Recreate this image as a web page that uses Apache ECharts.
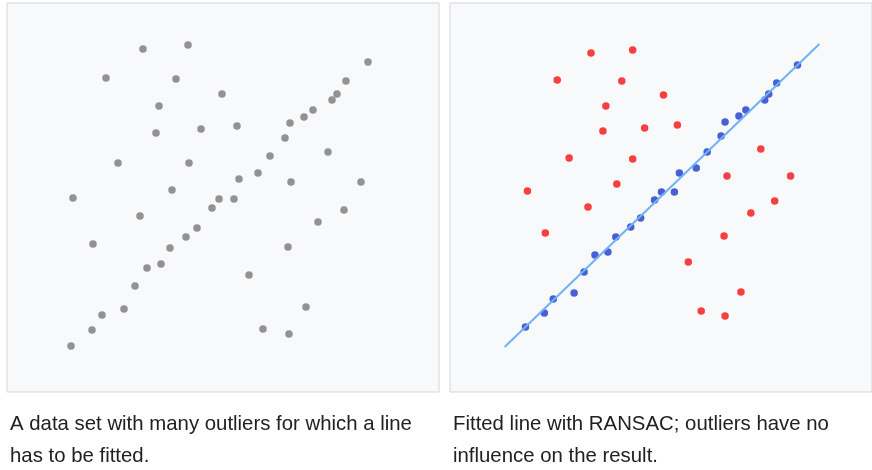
<!DOCTYPE html>
<html>
<head>
<meta charset="utf-8">
<style>
html,body{margin:0;padding:0;background:#ffffff;}
#chart{width:872px;height:470px;}
</style>
<script src="https://cdn.jsdelivr.net/npm/echarts@6/dist/echarts.min.js"></script>
</head>
<body>
<div id="chart"></div>
<script>
// Left panel: all points of the data set
var allPoints = [
  [136,343],[181,347],[99,314],[169,313],[215,298],[361,330],[339,311],[330,298],[325,292],[306,282],
  [297,275],[283,269],[152,286],[149,259],[194,263],[230,266],[278,254],[111,229],[182,229],[263,236],
  [321,240],[251,219],[232,213],[284,210],[354,210],[165,202],[66,194],[212,193],[227,193],[205,184],
  [133,176],[337,182],[311,170],[86,148],[190,164],[179,155],[163,144],[281,145],[154,128],[140,124],
  [128,106],[242,117],[117,83],[95,77],[299,85],[85,62],[256,63],[282,58],[64,46]
];
// Right panel: outliers (red)
var outliers = [
  [142,339],[184,342],[108,312],[173,311],[215,297],[157,286],[154,261],[196,264],[229,267],[120,234],
  [184,233],[313,243],[279,216],[343,216],[168,208],[78,201],[139,185],[327,191],[303,179],[96,159],
  [276,156],[240,130],[293,100],[253,81],[277,76]
];
// Right panel: inliers (blue)
var inliers = [
  [350,327],[329,309],[321,298],[317,292],[298,282],[291,276],[277,270],[273,256],[259,240],[248,224],
  [231,219],[226,200],[213,200],[206,192],[192,174],[182,165],[167,155],[159,140],[146,137],[135,120],
  [125,99],[104,93],[95,79],[76,65]
];
// Right panel: fitted line end points
var fittedLine = [[55,45],[372,348]];

var captionLeft = ['A data set with many outliers for which a line', 'has to be fitted.'];
var captionRight = ['Fitted line with RANSAC; outliers have no', 'influence on the result.'];

var chart = echarts.init(document.getElementById('chart'), null, {renderer:'canvas'});
var panelBg = '#f8f9fa', panelBorder = '#d3d6da';
function xAx(i, max){ return {gridIndex:i, type:'value', min:0, max:max, show:false}; }
function yAx(i){ return {gridIndex:i, type:'value', min:0, max:389, show:false}; }
var fontFam = '"Liberation Sans", Arial, sans-serif';
function cap(x, lines){
  return lines.map(function(t, k){
    return {type:'text', x:x, y:414 + k*32, scaleX:0.97, style:{text:t, fontSize:21, fontFamily:fontFam, fill:'#202122'}};
  });
}
chart.setOption({
  animation:false,
  backgroundColor:'#ffffff',
  grid:[
    {left:7, top:3, width:432, height:389, show:true, backgroundColor:panelBg, borderColor:panelBorder, borderWidth:1},
    {left:450, top:3, width:425, height:389, show:true, backgroundColor:panelBg, borderColor:panelBorder, borderWidth:1}
  ],
  xAxis:[xAx(0,432), xAx(1,425)],
  yAxis:[yAx(0), yAx(1)],
  series:[
    {type:'scatter', xAxisIndex:0, yAxisIndex:0, data:allPoints, symbolSize:7.5, itemStyle:{color:'#787878'}, silent:true},
    {type:'line', xAxisIndex:1, yAxisIndex:1, data:fittedLine, symbol:'none', lineStyle:{color:'#6fb2f7', width:2}, silent:true},
    {type:'scatter', xAxisIndex:1, yAxisIndex:1, data:outliers, symbolSize:7.5, itemStyle:{color:'#f81010'}, silent:true},
    {type:'scatter', xAxisIndex:1, yAxisIndex:1, data:inliers, symbolSize:7.5, itemStyle:{color:'#1a3acb'}, silent:true}
  ],
  graphic: cap(10, captionLeft).concat(cap(453, captionRight))
});
</script>
</body>
</html>
